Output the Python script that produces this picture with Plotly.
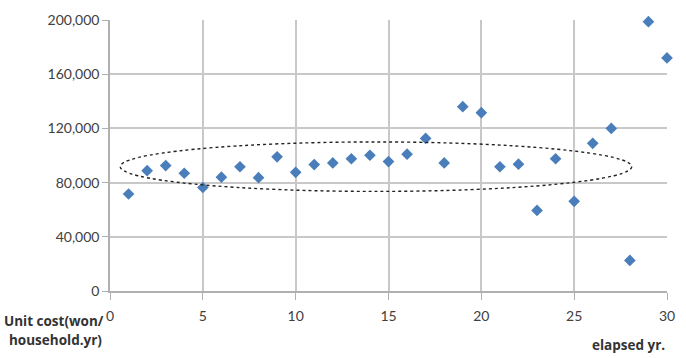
import plotly.graph_objects as go

years = list(range(1, 31))
unit_cost = [71600, 88800, 92600, 86900, 76400, 84000, 91700, 83600, 99000, 87600,
             93300, 94500, 97600, 100200, 95500, 101000, 112600, 94500, 136000, 131600,
             91700, 93600, 59500, 97600, 66200, 109000, 120000, 22600, 198800, 172000]
x_ticks = [0, 5, 10, 15, 20, 25, 30]
y_ticks = [0, 40000, 80000, 120000, 160000, 200000]
ellipse_x = [0.55, 28.1]
ellipse_y = [73500, 110000]

fig = go.Figure()
fig.add_trace(go.Scatter(
    x=years, y=unit_cost, mode="markers", cliponaxis=False,
    marker=dict(symbol="diamond", size=9, color="#4a7ebb"),
    showlegend=False,
))

fig.add_shape(type="circle", xref="x", yref="y",
              x0=ellipse_x[0], x1=ellipse_x[1], y0=ellipse_y[0], y1=ellipse_y[1],
              line=dict(color="#222222", width=1.4, dash="dot"))

tickfont = dict(family="Lato, Open Sans, sans-serif", size=14, color="#404040")
fig.update_xaxes(range=[0, 30], tickvals=x_ticks, showgrid=True, gridcolor="#c8c8c8",
                 gridwidth=1.5, showline=True, linecolor="#b0b0b0", linewidth=1.5,
                 ticks="outside", ticklen=7, tickcolor="#b0b0b0", tickfont=tickfont,
                 ticklabelstandoff=4, zeroline=False, mirror=False)
fig.update_yaxes(range=[0, 200000], tickvals=y_ticks, tickformat=",d", showgrid=True,
                 gridcolor="#c8c8c8", gridwidth=1.5, showline=True, linecolor="#b0b0b0",
                 linewidth=1.5, ticks="outside", ticklen=6, tickcolor="#b0b0b0",
                 tickfont=tickfont, zeroline=False)

labfont = dict(family="Open Sans, Lato, sans-serif", size=13.5, color="#333333")
fig.add_annotation(text="<b>Unit cost(won/</b>", xref="paper", yref="paper",
                   x=-0.1, y=-0.111, xanchor="center", yanchor="middle",
                   showarrow=False, font=labfont)
fig.add_annotation(text="<b>household.yr)</b>", xref="paper", yref="paper",
                   x=-0.0975, y=-0.182, xanchor="center", yanchor="middle",
                   showarrow=False, font=labfont)
fig.add_annotation(text="<b>elapsed yr.</b>", xref="paper", yref="paper",
                   x=1.0, y=-0.2, xanchor="right", yanchor="middle",
                   showarrow=False, font=labfont)

fig.update_layout(width=686, height=358, margin=dict(l=110, r=17, t=11, b=67),
                  plot_bgcolor="white", paper_bgcolor="white")
fig.write_html("out.html")
